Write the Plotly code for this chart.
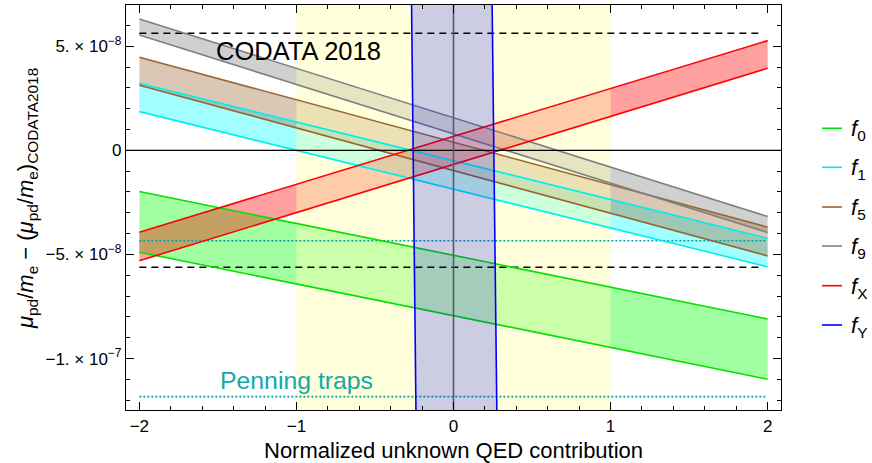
import plotly.graph_objects as go

# ---------------- data (units of 1e-8 for band values) ----------------
x_domain = [-2, 2]                      # band evaluated from x=-2 to x=2
bands = ["f0", "f1", "f5", "f9", "fX"]
f0_upper = [-1.98, -8.10]
f0_lower = [-4.89, -10.99]
f1_upper = [3.22, -4.22]
f1_lower = [1.86, -5.59]
f5_upper = [4.47, -3.69]
f5_lower = [3.13, -5.07]
f9_upper = [6.31, -3.18]
f9_lower = [5.54, -3.95]
fX_upper = [-3.93, 5.27]
fX_lower = [-5.30, 3.94]
# f_Y: nearly vertical band, x positions at y = fY_y values
fY_y = [7.0, -12.5]
fY_left_x = [-0.267, -0.239]
fY_right_x = [0.246, 0.276]

codata_limits = [5.62, -5.62]
codata_x = [-2, 1.97]
penning_limits = [-4.34, -11.83]
penning_x = [-2, 1.99]
yellow_band = [-1, 1]

y_ticks = [-10, -5, 0, 5]
y_tick_text = ["−1. × 10<sup>−7</sup>", "−5. × 10<sup>−8</sup>", "0", "5. × 10<sup>−8</sup>"]
x_ticks = [-2, -1, 0, 1, 2]
x_tick_text = ["−2", "−1", "0", "1", "2"]
legend_labels = ["<i>f</i><sub>0</sub>", "<i>f</i><sub>1</sub>", "<i>f</i><sub>5</sub>",
                 "<i>f</i><sub>9</sub>", "<i>f</i><sub>X</sub>", "<i>f</i><sub>Y</sub>"]

S = 1e-8
Y_RANGE = [-12.47, 6.98]
X_RANGE = [-2.085, 2.085]

line_colors = {"f0": "rgb(0,225,0)", "f1": "rgb(0,238,238)", "f5": "rgb(153,102,51)",
               "f9": "rgb(128,128,128)", "fX": "rgb(255,0,0)", "fY": "rgb(0,0,255)"}
fill_colors = {"f0": "rgba(0,255,0,0.37)", "f1": "rgba(0,255,255,0.37)",
               "f5": "rgba(153,102,51,0.36)", "f9": "rgba(128,128,128,0.37)",
               "fX": "rgba(255,0,0,0.37)"}
band_data = {"f0": (f0_upper, f0_lower), "f1": (f1_upper, f1_lower),
             "f5": (f5_upper, f5_lower), "f9": (f9_upper, f9_lower),
             "fX": (fX_upper, fX_lower)}

def sc(v):
    return [a * S for a in v]

fig = go.Figure()

# 1. band fills
for b in bands:
    up, lo = band_data[b]
    fig.add_trace(go.Scatter(
        x=[x_domain[0], x_domain[1], x_domain[1], x_domain[0]],
        y=sc([lo[0], lo[1], up[1], up[0]]),
        fill="toself", fillcolor=fill_colors[b], mode="none",
        showlegend=False, hoverinfo="skip"))

# 2. yellow region (drawn over fills)
fig.add_trace(go.Scatter(
    x=[yellow_band[0], yellow_band[1], yellow_band[1], yellow_band[0]],
    y=sc([Y_RANGE[0] - 1, Y_RANGE[0] - 1, Y_RANGE[1] + 1, Y_RANGE[1] + 1]),
    fill="toself", fillcolor="rgba(255,255,179,0.46)", mode="none",
    showlegend=False, hoverinfo="skip"))

# 3. reference lines
for yv in codata_limits:
    fig.add_trace(go.Scatter(x=codata_x, y=sc([yv, yv]), mode="lines",
                             line=dict(color="black", width=1.5, dash="7px,5px"),
                             showlegend=False, hoverinfo="skip"))
for yv in penning_limits:
    fig.add_trace(go.Scatter(x=penning_x, y=sc([yv, yv]), mode="lines",
                             line=dict(color="rgb(0,160,165)", width=1.6, dash="2px,2px"),
                             showlegend=False, hoverinfo="skip"))

# band edge lines
for b in bands:
    up, lo = band_data[b]
    for edge in (up, lo):
        fig.add_trace(go.Scatter(x=x_domain, y=sc(edge), mode="lines",
                                 line=dict(color=line_colors[b], width=1.6),
                                 showlegend=False, hoverinfo="skip"))

# 4. f_Y band fill
fig.add_trace(go.Scatter(
    x=[fY_left_x[0], fY_right_x[0], fY_right_x[1], fY_left_x[1]],
    y=sc([fY_y[0], fY_y[0], fY_y[1], fY_y[1]]),
    fill="toself", fillcolor="rgba(0,0,255,0.2)", mode="none",
    showlegend=False, hoverinfo="skip"))

# axes lines at 0
fig.add_trace(go.Scatter(x=X_RANGE, y=[0, 0], mode="lines",
                         line=dict(color="black", width=1.1),
                         showlegend=False, hoverinfo="skip"))
fig.add_trace(go.Scatter(x=[0, 0], y=sc([Y_RANGE[0] - 1, Y_RANGE[1] + 1]), mode="lines",
                         line=dict(color="rgb(90,90,100)", width=1.6),
                         showlegend=False, hoverinfo="skip"))

# 5. f_Y lines
for xs in (fY_left_x, fY_right_x):
    fig.add_trace(go.Scatter(x=xs, y=sc(fY_y), mode="lines",
                             line=dict(color=line_colors["fY"], width=1.6),
                             showlegend=False, hoverinfo="skip"))

# ---------------- layout ----------------
L, R, T, B = 126, 91, 5, 53
W, H = 872, 463
pw, ph = W - L - R, H - T - B

def px_x(px):
    return (px - L) / pw

def px_y(py):
    return (H - B - py) / ph

annotations = [
    dict(text="CODATA 2018", x=-0.99, y=4.78 * S, xref="x", yref="y",
         showarrow=False, font=dict(size=25.5, color="black"), xanchor="center", yanchor="middle"),
    dict(text="Penning traps", x=-1.0, y=-11.05 * S, xref="x", yref="y",
         showarrow=False, font=dict(size=24.8, color="rgb(20,168,168)"), xanchor="center", yanchor="middle"),
    dict(text="Normalized unknown QED contribution", x=px_x(453.6), y=px_y(450),
         xref="paper", yref="paper", showarrow=False, font=dict(size=22, color="black"),
         xanchor="center", yanchor="middle"),
    dict(text="<i>μ</i><sub>pd</sub>/<i>m</i><sub>e</sub> − (<i>μ</i><sub>pd</sub>/<i>m</i><sub>e</sub>)<sub>CODATA2018</sub>",
         x=px_x(27), y=px_y(199), xref="paper", yref="paper", showarrow=False,
         textangle=-90, font=dict(size=22, color="black"), xanchor="center", yanchor="middle"),
]
shapes = []
legend_colors = [line_colors[k] for k in ["f0", "f1", "f5", "f9", "fX", "fY"]]
legend_py = [128.3, 167.3, 207, 246, 285.7, 325]
for lab, col, py in zip(legend_labels, legend_colors, legend_py):
    shapes.append(dict(type="line", xref="paper", yref="paper",
                       x0=px_x(822), x1=px_x(842), y0=px_y(py), y1=px_y(py),
                       line=dict(color=col, width=1.6)))
    annotations.append(dict(text=lab, x=px_x(849), y=px_y(py + 2), xref="paper", yref="paper",
                            showarrow=False, font=dict(size=22, color="black"),
                            xanchor="left", yanchor="middle"))

axis_common = dict(showline=True, linecolor="black", linewidth=1.3, mirror="allticks",
                   ticks="inside", ticklen=8, tickwidth=1, tickcolor="black",
                   showgrid=False, zeroline=False,
                   tickfont=dict(size=17, color="black", family="Liberation Sans, Arial"))

fig.update_layout(
    width=W, height=H, margin=dict(l=L, r=R, t=T, b=B, pad=0),
    paper_bgcolor="white", plot_bgcolor="white",
    font=dict(family="Liberation Sans, Arial", color="black"),
    showlegend=False,
    xaxis=dict(range=X_RANGE, tickvals=x_ticks, ticktext=x_tick_text,
               minor=dict(dtick=0.2, tick0=-2, ticks="inside", ticklen=4, tickcolor="black"),
               **axis_common),
    yaxis=dict(range=[v * S for v in Y_RANGE], tickvals=[v * S for v in y_ticks],
               ticktext=y_tick_text,
               minor=dict(dtick=1 * S, tick0=0, ticks="inside", ticklen=4, tickcolor="black"),
               **axis_common),
    annotations=annotations, shapes=shapes,
)

fig.write_html("out.html", config={"displayModeBar": False},
               post_script="document.body.style.margin='0';document.body.style.overflow='hidden';")
